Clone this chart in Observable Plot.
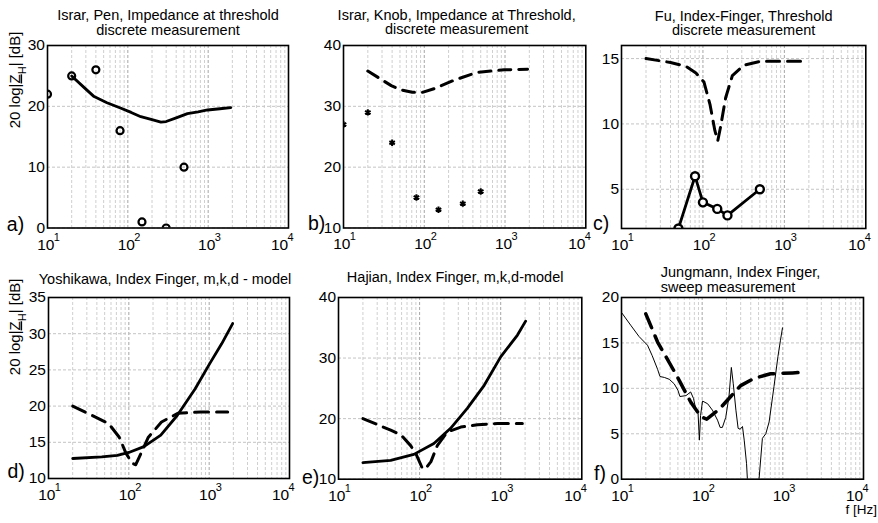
<!DOCTYPE html>
<html>
<head>
<meta charset="utf-8">
<script src="https://cdn.jsdelivr.net/npm/d3@7"></script>
<script src="https://cdn.jsdelivr.net/npm/@observablehq/plot@0.6"></script>
<style>
  html, body { margin: 0; padding: 0; background: white; }
  #chart { position: relative; width: 878px; height: 523px; overflow: hidden; background: white; }
  #chart svg { position: absolute; }
  #chart svg, #chart svg text, #chart svg tspan { font-family: "Liberation Sans", Arial, sans-serif !important; }
</style>
</head>
<body>
<div id="chart"></div>
<script>
// ---- shared axis data ----
const xTicks = [10, 100, 1000, 10000];
const xExps = ["1", "2", "3", "4"];
const minorX = [20, 30, 40, 50, 60, 70, 80, 90, 200, 300, 400, 500, 600, 700, 800, 900,
                2000, 3000, 4000, 5000, 6000, 7000, 8000, 9000];
const majorX = [100, 1000];
const yLabel = "20 log|ZH| [dB]";
const xLabel = "f [Hz]";

// ---- panel a ----
const aTitle = "Israr, Pen, Impedance at threshold\ndiscrete measurement";
const aYTicks = [0, 10, 20, 30];
const aPtsF = [10, 20, 40, 80, 150, 300, 500];
const aPtsV = [22, 25, 26, 16, 1, 0, 10];
const aLineF = [20, 28, 38, 55, 78, 110, 145, 200, 258, 300, 400, 552, 750, 982, 1400, 1910];
const aLineV = [25, 23.2, 21.6, 20.6, 19.8, 19.0, 18.3, 17.8, 17.4, 17.5, 18.1, 18.8, 19.1, 19.4, 19.6, 19.8];

// ---- panel b ----
const bTitle = "Israr, Knob, Impedance at Threshold,\ndiscrete measurement";
const bYTicks = [10, 20, 30, 40];
const bPtsF = [10, 20, 40, 80, 150, 300, 500];
const bPtsV = [27, 29, 24, 15, 13, 14, 16];
const bLineF = [20, 39, 51, 71, 95, 132, 235, 457, 980, 1900];
const bLineV = [35.8, 33.4, 32.7, 32.3, 32.3, 32.9, 34.3, 35.6, 36.0, 36.1];

// ---- panel c ----
const cTitle = "Fu, Index-Finger, Threshold\ndiscrete measurement";
const cYTicks = [5, 10, 15];
const cPtsF = [50, 80, 100, 150, 200, 500];
const cPtsV = [2, 6, 4, 3.5, 3, 5];
const cLineF = [20, 40, 62, 82, 103, 122, 140, 152, 165, 190, 230, 320, 515, 995, 1920];
const cLineV = [15, 14.7, 14.4, 13.9, 13.2, 11.5, 9.5, 8.7, 9.8, 12.0, 13.7, 14.5, 14.8, 14.8, 14.8];

// ---- panel d ----
const dTitle = "Yoshikawa, Index Finger, m,k,d - model";
const dYTicks = [10, 15, 20, 25, 30, 35];
const dModelF = [20, 46, 72, 100, 154, 250, 400, 670, 1020, 1430, 1960];
const dModelV = [12.76, 13.0, 13.2, 13.6, 14.4, 16.0, 18.7, 22.4, 25.9, 28.6, 31.4];
const dMeasF = [20, 56, 76, 92, 110, 122, 145, 175, 255, 407, 790, 1700];
const dMeasV = [20, 17.6, 15.7, 13.5, 12.1, 11.9, 13.7, 15.7, 17.8, 19.0, 19.2, 19.2];

// ---- panel e ----
const eTitle = "Hajian, Index Finger, m,k,d-model";
const eYTicks = [10, 20, 30, 40];
const eModelF = [20, 44, 85, 150, 241, 387, 626, 1000, 1610, 2030];
const eModelV = [12.75, 13.1, 14.1, 15.9, 18.4, 21.7, 25.5, 30.2, 33.8, 36.1];
const eMeasF = [20, 44, 59, 78, 90, 108, 118, 138, 166, 219, 322, 518, 910, 1850];
const eMeasV = [20, 18.1, 17.3, 15.5, 14.2, 11.8, 11.7, 12.9, 15.6, 17.8, 18.6, 19.0, 19.2, 19.2];

// ---- panel f ----
const fTitle = "Jungmann, Index Finger,\nsweep measurement";
const fYTicks = [0, 5, 10, 15, 20];
const fMeasF = [20, 28, 49, 72, 96, 114, 163, 226, 300, 440, 705, 1320, 1990];
const fMeasV = [18.2, 15.1, 11.3, 8.5, 6.9, 6.6, 7.7, 9.1, 10.3, 11.1, 11.6, 11.7, 11.8];
const fSweepF = [10, 13, 16.5, 21, 24, 28, 30, 34, 39, 45, 50, 53, 63, 72, 78, 83, 89, 92.4, 95.5, 101,
                 117, 134, 155, 167, 178, 196, 215, 230, 243, 262, 279, 296, 316, 332, 355, 363, 380, 480,
                 507, 558, 615, 676, 777, 870, 935, 990];
const fSweepV = [18.35, 16.95, 15.7, 14.75, 13.6, 12.1, 11.3, 11.2, 11.0, 10.5, 9.8, 9.1, 9.2, 9.6, 8.9, 7.8,
                 7.2, 4.3, 7.0, 8.6, 8.3, 7.6, 6.5, 5.7, 5.7, 6.8, 9.1, 12.3, 10.5, 7.6, 5.6, 5.5, 5.8, 4.3,
                 1.7, 0.1, -4, -4, 0, 4.5, 5.0, 6.3, 10.2, 13.5, 15.3, 16.65];

const zip = (fs, vs) => fs.map((f, i) => ({f, v: vs[i]}));

const FONT = "'Liberation Sans', Arial, sans-serif";
const mL = 50, mR = 16, mT = 45, mB = 42;
// the last decade label sits shifted left inside the axes, as in the original
const labelShift = [-1.7, -1.5, -1.5, -9];

function panel(cfg) {
  const {L, R, T, B, yDomain, yTicks, title, titleDx, titleDy, titleAnchor, letter, letterDx, letterDy,
         showYLabel, yLabelDy, extra, marks} = cfg;
  const width = R - L + mL + mR;
  const height = B - T + mT + mB;
  const svg = Plot.plot({
    width, height,
    marginLeft: mL, marginRight: mR, marginTop: mT, marginBottom: mB,
    style: {background: "transparent", overflow: "visible", fontFamily: FONT, color: "black"},
    x: {type: "log", domain: [10, 10000], axis: null},
    y: {domain: yDomain, axis: null},
    marks: [
      Plot.ruleX(minorX, {stroke: "#cfcfcf", strokeDasharray: "3,2", strokeWidth: 1}),
      Plot.ruleX(majorX, {stroke: "#a6a6a6", strokeDasharray: "3,2", strokeWidth: 1}),
      Plot.ruleY(yTicks, {stroke: "#c4c4c4", strokeDasharray: "3,2", strokeWidth: 1}),
      ...marks,
      Plot.frame({stroke: "black", strokeWidth: 1.6}),
      // y tick labels
      Plot.text(yTicks, {y: d => d, frameAnchor: "left", textAnchor: "end", dx: -2.5, fontSize: 15.5,
                         text: d => String(d), fill: "black"}),
      // x tick labels: mantissa and exponent (one text mark per decade for its own offset)
      ...xTicks.map((t, i) => Plot.text([t], {x: d => d, frameAnchor: "bottom", lineAnchor: "bottom",
                         dy: 21.5, dx: labelShift[i], text: () => "10", fontSize: 15.5, fill: "black"})),
      ...xTicks.map((t, i) => Plot.text([t], {x: d => d, frameAnchor: "bottom", lineAnchor: "bottom",
                         textAnchor: "start", dy: 12.5, dx: labelShift[i] + 8, text: () => xExps[i],
                         fontSize: 11, fill: "black"})),
      // title
      Plot.text([title], {frameAnchor: titleAnchor === "start" ? "top-left" : "top",
                          textAnchor: titleAnchor || "middle", lineAnchor: "bottom",
                          dx: titleDx, dy: titleDy, text: d => d, fontSize: 14.5, lineHeight: 1.0,
                          fill: "black"}),
      // panel letter
      Plot.text([letter], {frameAnchor: "bottom-left", textAnchor: "start", lineAnchor: "bottom",
                           dx: letterDx, dy: letterDy, text: d => d, fontSize: 19.5, fill: "black"}),
      ...(showYLabel ? [Plot.text([yLabel], {frameAnchor: "left", rotate: -90, lineAnchor: "middle",
                                             dx: 14 - L, dy: yLabelDy, text: d => d, fontSize: 15,
                                             fill: "black"})] : []),
      ...(extra || [])
    ]
  });
  svg.style.left = (L - mL) + "px";
  svg.style.top = (T - mT) + "px";
  svg.style.background = "transparent";
  // style the y label: underlined Z and subscript H
  svg.querySelectorAll("text").forEach(t => {
    if (t.textContent === yLabel) {
      t.textContent = "";
      const ns = "http://www.w3.org/2000/svg";
      const parts = [["20 log|", {}], ["Z", {"text-decoration": "underline"}],
                     ["H", {"baseline-shift": "sub", "font-size": "11"}], ["| [dB]", {}]];
      for (const [s, attrs] of parts) {
        const ts = document.createElementNS(ns, "tspan");
        ts.textContent = s;
        for (const k in attrs) ts.setAttribute(k, attrs[k]);
        t.appendChild(ts);
      }
    }
  });
  document.getElementById("chart").appendChild(svg);
}

const solid = (data, w) => Plot.line(data, {x: "f", y: "v", stroke: "black", strokeWidth: w, clip: true});
const dashed = (data, w, da) => Plot.line(data, {x: "f", y: "v", stroke: "black", strokeWidth: w,
                                                 strokeDasharray: da, clip: true});

panel({L: 46.7, R: 287.7, T: 45, B: 227.5, yDomain: [0, 30], yTicks: aYTicks,
       title: aTitle, titleDx: 0, titleDy: -11, letter: "a)", letterDx: -40.7, letterDy: 2.5,
       showYLabel: true, yLabelDy: -8.5,
       marks: [
         solid(zip(aLineF, aLineV), 2.8),
         Plot.dot(zip(aPtsF, aPtsV), {x: "f", y: "v", r: 3.5, stroke: "black", strokeWidth: 2.2, fill: "none", clip: true})
       ]});

panel({L: 342.7, R: 585, T: 45, B: 227.5, yDomain: [10, 40], yTicks: bYTicks,
       title: bTitle, titleDx: -8, titleDy: -11, letter: "b)", letterDx: -35.5, letterDy: 2.5,
       marks: [
         dashed(zip(bLineF, bLineV), 3, "12,8"),
         Plot.dot(zip(bPtsF, bPtsV), {x: "f", y: "v", symbol: "asterisk", r: 3, stroke: "black", strokeWidth: 2, clip: true})
       ]});

panel({L: 620.7, R: 865, T: 45, B: 228, yDomain: [2, 16], yTicks: cYTicks,
       title: cTitle, titleDx: 0, titleDy: -10, letter: "c)", letterDx: -28.5, letterDy: 2,
       marks: [
         dashed(zip(cLineF, cLineV), 3, "13,8"),
         solid(zip(cPtsF, cPtsV), 2.8),
         Plot.dot(zip(cPtsF, cPtsV), {x: "f", y: "v", r: 4, stroke: "black", strokeWidth: 2.4, fill: "white", clip: true})
       ]});

panel({L: 47.7, R: 288.7, T: 297.3, B: 478.3, yDomain: [10, 35], yTicks: dYTicks,
       title: dTitle, titleDx: -4, titleDy: -14, letter: "d)", letterDx: -41, letterDy: -0.5,
       showYLabel: true, yLabelDy: -12.8,
       marks: [
         dashed(zip(dMeasF, dMeasV), 3, "14,8"),
         solid(zip(dModelF, dModelV), 2.8)
       ]});

panel({L: 337.7, R: 581, T: 297.3, B: 479, yDomain: [10, 40], yTicks: eYTicks,
       title: eTitle, titleDx: -5, titleDy: -15, letter: "e)", letterDx: -36.5, letterDy: 5,
       marks: [
         dashed(zip(eMeasF, eMeasV), 3, "14,8"),
         solid(zip(eModelF, eModelV), 2.8)
       ]});

panel({L: 620.7, R: 862.7, T: 297.3, B: 479, yDomain: [0, 20], yTicks: fYTicks,
       title: fTitle, titleAnchor: "start", titleDx: 39.3, titleDy: -5.6, letter: "f)", letterDx: -27.4, letterDy: 1,
       marks: [
         solid(zip(fSweepF, fSweepV), 1),
         dashed(zip(fMeasF, fMeasV), 3.5, "15,9")
       ],
       extra: [
         Plot.text([xLabel], {frameAnchor: "bottom-right", textAnchor: "end", lineAnchor: "bottom",
                              dx: 13.5, dy: 35, text: d => d, fontSize: 13.5, fill: "black"})
       ]});
</script>
</body>
</html>
